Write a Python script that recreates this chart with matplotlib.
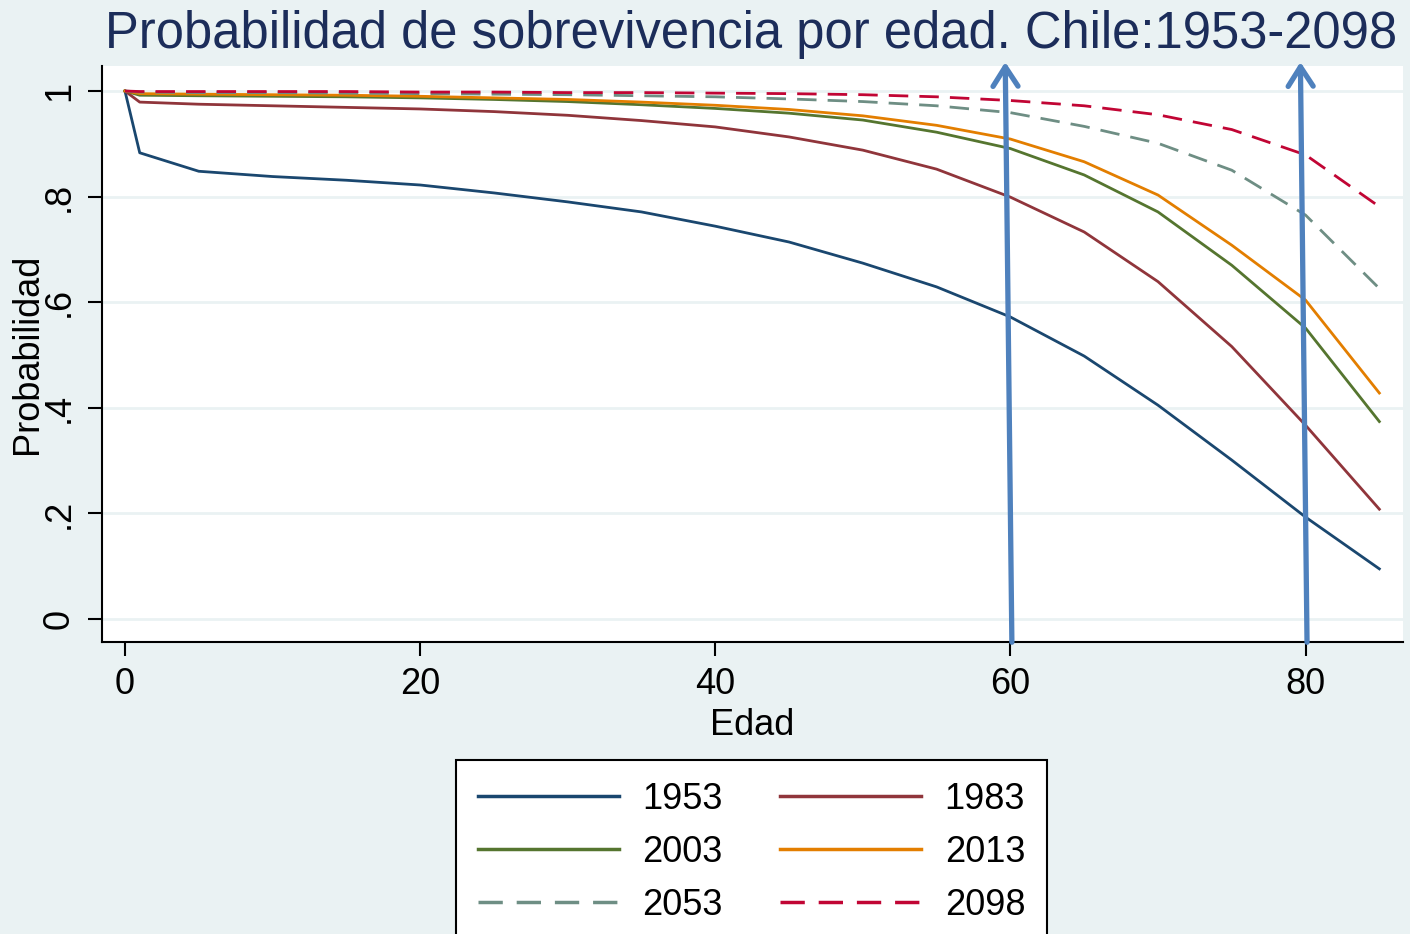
import matplotlib
matplotlib.use('Agg')
import matplotlib.pyplot as plt

matplotlib.rcParams['font.family'] = ['Liberation Sans', 'DejaVu Sans']

# ages and survival probabilities
edad = [0, 1, 5, 10, 15, 20, 25, 30, 35, 40, 45, 50, 55, 60, 65, 70, 75, 80, 85]
p1953 = [1.0, 0.883, 0.848, 0.838, 0.831, 0.822, 0.807, 0.790, 0.771, 0.744, 0.714,
         0.674, 0.629, 0.572, 0.498, 0.405, 0.301, 0.193, 0.095]
p1983 = [1.0, 0.979, 0.975, 0.972, 0.969, 0.966, 0.961, 0.954, 0.944, 0.932, 0.913,
         0.888, 0.852, 0.799, 0.733, 0.639, 0.516, 0.367, 0.208]
p2003 = [1.0, 0.992, 0.991, 0.990, 0.989, 0.987, 0.984, 0.980, 0.974, 0.967, 0.958,
         0.945, 0.922, 0.891, 0.841, 0.771, 0.670, 0.551, 0.374]
p2013 = [1.0, 0.995, 0.994, 0.993, 0.992, 0.990, 0.987, 0.984, 0.979, 0.973, 0.965,
         0.953, 0.935, 0.909, 0.866, 0.803, 0.708, 0.604, 0.428]
p2053 = [1.0, 0.998, 0.997, 0.997, 0.996, 0.995, 0.994, 0.993, 0.991, 0.989, 0.985,
         0.980, 0.972, 0.959, 0.933, 0.901, 0.850, 0.765, 0.626]
p2098 = [1.0, 0.999, 0.999, 0.999, 0.999, 0.998, 0.998, 0.997, 0.997, 0.996, 0.995,
         0.993, 0.989, 0.982, 0.972, 0.955, 0.927, 0.879, 0.781]

yticks = [0, 0.2, 0.4, 0.6, 0.8, 1.0]
ytick_labels = ['0', '.2', '.4', '.6', '.8', '1']
xticks = [0, 20, 40, 60, 80]
marked_ages = [60, 80]

bg = '#EAF2F3'
fig = plt.figure(figsize=(14.1, 9.34), dpi=100, facecolor=bg)
ax = fig.add_axes([0.0723, 0.3126, 0.9227, 0.6167])
ax.set_facecolor('white')

series = [
    ('1953', p1953, '#1A476F', '-'),
    ('1983', p1983, '#90353B', '-'),
    ('2003', p2003, '#55752F', '-'),
    ('2013', p2013, '#E37E00', '-'),
    ('2053', p2053, '#6E8E84', (0, (7, 4))),
    ('2098', p2098, '#C10534', (0, (7, 4))),
]
lines = {}
for name, vals, col, ls in series:
    ln, = ax.plot(edad, vals, color=col, linestyle=ls, lw=2.0, label=name)
    lines[name] = ln

ax.set_xlim(-1.56, 86.6)
ax.set_ylim(-0.0436, 1.0473)
ax.set_xticks(xticks)
ax.set_yticks(yticks)
ax.set_yticklabels(ytick_labels, rotation=90, va='center')
ax.tick_params(axis='both', labelsize=26, length=10, width=1.5, pad=8)
ax.yaxis.grid(True, color=bg, lw=2)
ax.set_axisbelow(True)
for s in ['top', 'right']:
    ax.spines[s].set_visible(False)
for s in ['left', 'bottom']:
    ax.spines[s].set_linewidth(1.5)

ax.set_xlabel('Edad', fontsize=26, labelpad=4)
ax.set_ylabel('Probabilidad', fontsize=26, labelpad=-2)

# blue arrows marking ages 60 and 80
for a in marked_ages:
    ax.annotate('', xy=(a - 0.35, 1.055), xytext=(a + 0.1, -0.044),
                annotation_clip=False,
                arrowprops=dict(arrowstyle='->,head_length=0.7,head_width=0.45',
                                color='#4F81BD', lw=3.8, shrinkA=0, shrinkB=0,
                                mutation_scale=20, capstyle='round'))

fig.text(0.533, 0.963, 'Probabilidad de sobrevivencia por edad. Chile:1953-2098',
         fontsize=36.5, color='#1C2D5A', ha='center', va='center')

order = ['1953', '2003', '2053', '1983', '2013', '2098']
leg = fig.legend([lines[k] for k in order], order, ncol=2, loc='upper center',
                 bbox_to_anchor=(0.533, 1 - 760 / 934), fontsize=26,
                 frameon=True, fancybox=False, edgecolor='black',
                 facecolor='white', framealpha=1, borderaxespad=0,
                 handlelength=3.9, handletextpad=0.65, columnspacing=1.6,
                 labelspacing=0.5, borderpad=0.6)
leg.get_frame().set_linewidth(1.5)
for h in leg.get_lines():
    h.set_linewidth(2.5)

fig.savefig('out.png', dpi=100, facecolor=bg)
